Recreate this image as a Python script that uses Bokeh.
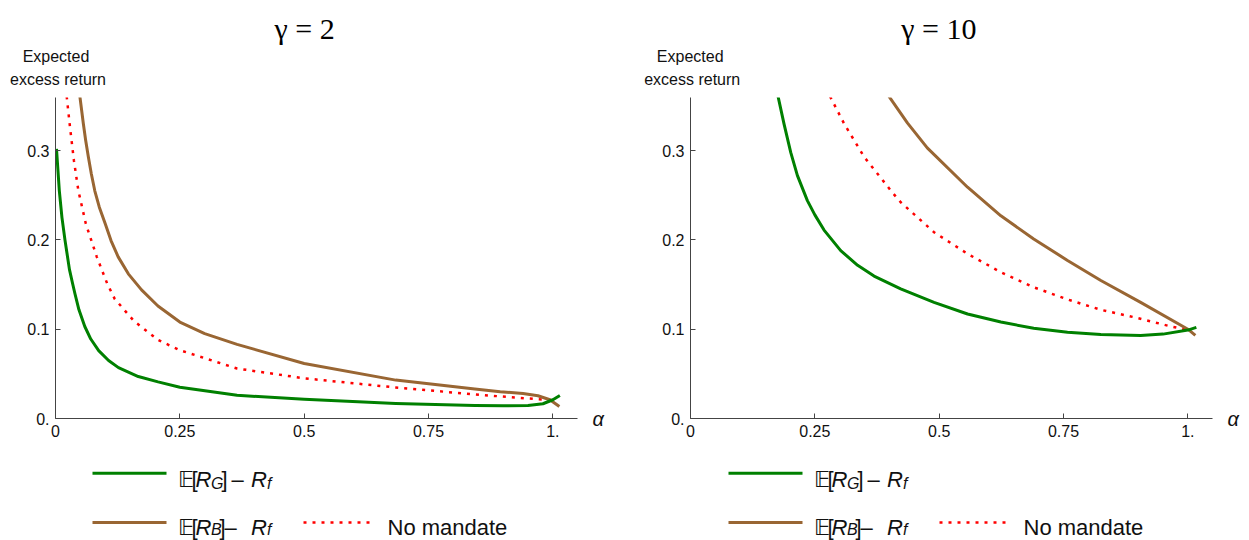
from bokeh.plotting import figure
from bokeh.models import Range1d, FixedTicker, LinearAxis
from bokeh.layouts import row, column
from bokeh.embed import file_html
from bokeh.resources import INLINE
from bokeh.core.properties import value

# ---------------- data ----------------
ALPHA_TICKS = [0, 0.25, 0.5, 0.75, 1.0]
ALPHA_TICK_LABELS = ["0", "0.25", "0.5", "0.75", "1."]
Y_TICKS = [0, 0.1, 0.2, 0.3]
Y_TICK_LABELS = ["0.", "0.1", "0.2", "0.3"]
TITLES = ["γ = 2", "γ = 10"]
Y_LABEL = ["Expected", "excess return"]
X_LABEL = "α"

# gamma = 2
g2_green_alpha = [0.002, 0.0077, 0.013, 0.019, 0.0231, 0.028, 0.034, 0.039, 0.047, 0.0589,
                  0.0709, 0.0868, 0.1067, 0.1266, 0.1664, 0.2062, 0.250, 0.365, 0.500, 0.684,
                  0.843, 0.900, 0.950, 0.980, 1.000, 1.014]
g2_green = [0.302, 0.255, 0.225, 0.200, 0.185, 0.167, 0.152, 0.140, 0.122, 0.103,
            0.089, 0.076, 0.065, 0.057, 0.047, 0.041, 0.035, 0.026, 0.0216, 0.0168,
            0.0145, 0.0142, 0.0145, 0.0165, 0.021, 0.0258]
g2_brown_alpha = [0.049, 0.056, 0.0607, 0.066, 0.072, 0.079, 0.0881, 0.100, 0.1116, 0.126,
                  0.1464, 0.173, 0.206, 0.250, 0.300, 0.365, 0.500, 0.684, 0.843, 0.894,
                  0.940, 0.970, 0.994, 1.013]
g2_brown = [0.3607, 0.330, 0.3113, 0.293, 0.274, 0.255, 0.2366, 0.218, 0.1993, 0.181,
            0.162, 0.144, 0.126, 0.108, 0.095, 0.083, 0.0616, 0.043, 0.033, 0.030,
            0.028, 0.0255, 0.021, 0.0134]
g2_red_alpha = [0.0225, 0.029, 0.037, 0.046, 0.061, 0.083, 0.104, 0.119, 0.158, 0.206, 0.250,
                0.365, 0.500, 0.684, 0.843, 0.923, 1.000]
g2_red = [0.3607, 0.327, 0.289, 0.255, 0.218, 0.181, 0.151, 0.134, 0.109, 0.088, 0.0765,
          0.056, 0.045, 0.0347, 0.027, 0.0235, 0.0205]

# gamma = 10
g10_green_alpha = [0.176, 0.188, 0.2015, 0.215, 0.235, 0.250, 0.2685, 0.302, 0.336, 0.369,
                   0.4226, 0.4896, 0.557, 0.624, 0.690, 0.758, 0.825, 0.905, 0.950, 1.000, 1.017]
g10_green = [0.3607, 0.330, 0.298, 0.272, 0.244, 0.228, 0.211, 0.188, 0.1715, 0.1595,
             0.1452, 0.130, 0.117, 0.108, 0.101, 0.0967, 0.094, 0.093, 0.0945, 0.099, 0.102]
g10_brown_alpha = [0.399, 0.436, 0.476, 0.557, 0.624, 0.690, 0.758, 0.825, 0.905, 1.000, 1.015]
g10_brown = [0.3607, 0.331, 0.303, 0.259, 0.227, 0.201, 0.177, 0.1545, 0.130, 0.100, 0.093]
g10_red_alpha = [0.2806, 0.309, 0.349, 0.406, 0.4226, 0.4896, 0.557, 0.624, 0.690, 0.758,
                 0.825, 0.891, 0.963, 1.000]
g10_red = [0.3607, 0.330, 0.293, 0.253, 0.2422, 0.2086, 0.1844, 0.1638, 0.147, 0.1333,
           0.1217, 0.1135, 0.1035, 0.099]

GREEN = "#008000"
BROWN = "#996633"
RED = "#ff0000"
SANS = "Liberation Sans"
SERIF = "Liberation Serif"
INK = "#111111"

# ---------------- layout constants (pixels) ----------------
PX_PER_ALPHA = 497.4
FRAME_W = 522
FRAME_H = 321
X_END = FRAME_W / PX_PER_ALPHA
Y_END = FRAME_H / 893.0
HEAD_H = 97
MAIN_H = FRAME_H + 30
LEG_TOP = HEAD_H + MAIN_H
LEG_H = 92


def style_axis(ax, ticks, labels):
    ax.ticker = FixedTicker(ticks=ticks)
    ax.major_label_overrides = {t: l for t, l in zip(ticks, labels)}
    ax.axis_line_color = "#444444"
    ax.major_tick_line_color = "#444444"
    ax.major_tick_in = 5
    ax.major_tick_out = 0
    ax.minor_tick_line_color = None
    ax.major_label_text_font = SANS
    ax.major_label_text_font_size = "16px"
    ax.major_label_text_color = INK
    ax.major_label_standoff = 6


def make_header(left, width, title, x0):
    h = figure(width=width, height=HEAD_H, title=None,
               x_range=Range1d(left, left + width), y_range=Range1d(HEAD_H, 0),
               x_axis_type=None, y_axis_type=None, min_border=0,
               toolbar_location=None, output_backend="svg")
    h.outline_line_color = None
    h.text(x=[x0 + 0.5 * PX_PER_ALPHA], y=[28], text=[title], text_font=value(SERIF),
           text_font_size=value("30px"), text_align="center", text_baseline="alphabetic",
           text_color="#000000")
    h.text(x=[x0, x0 + 2], y=[56, 79], text=Y_LABEL, text_font=value(SANS),
           text_font_size=value("16px"), text_align="center", text_baseline="alphabetic",
           text_color=INK)
    return h


def make_panel(green, brown, red, width, border_left, border_right):
    p = figure(width=width, height=MAIN_H, title=None,
               x_range=Range1d(0, X_END), y_range=Range1d(0, Y_END),
               min_border_left=border_left, min_border_right=border_right,
               min_border_top=0, min_border_bottom=30,
               toolbar_location=None, output_backend="svg")
    p.outline_line_color = None
    p.xgrid.visible = False
    p.ygrid.visible = False
    style_axis(p.xaxis[0], ALPHA_TICKS, ALPHA_TICK_LABELS)
    style_axis(p.yaxis[0], Y_TICKS, Y_TICK_LABELS)

    # the alpha label sits to the right of the x axis, at y = 0
    a = LinearAxis(ticker=FixedTicker(ticks=[0]), major_label_overrides={0: X_LABEL})
    a.axis_line_color = None
    a.major_tick_line_color = None
    a.minor_tick_line_color = None
    a.major_tick_in = 0
    a.major_tick_out = 0
    a.major_label_standoff = 15
    a.major_label_text_font = SANS
    a.major_label_text_font_style = "italic"
    a.major_label_text_font_size = "20px"
    a.major_label_text_color = INK
    p.add_layout(a, "right")

    p.line(red[0], red[1], line_color=RED, line_width=2.5, line_dash="3 6", line_join="round")
    p.line(brown[0], brown[1], line_color=BROWN, line_width=3, line_join="round")
    p.line(green[0], green[1], line_color=GREEN, line_width=3, line_join="round")
    return p


def make_legend(left, width, dx):
    q = figure(width=width, height=LEG_H, title=None,
               x_range=Range1d(left, left + width), y_range=Range1d(LEG_TOP + LEG_H, LEG_TOP),
               x_axis_type=None, y_axis_type=None, min_border=0,
               toolbar_location=None, output_backend="svg")
    q.outline_line_color = None
    q.line([92 + dx, 166 + dx], [472.7, 472.7], line_color=GREEN, line_width=3)
    q.line([92 + dx, 166 + dx], [522.0, 522.0], line_color=BROWN, line_width=3)
    q.line([303 + dx, 372 + dx], [522.0, 522.0], line_color=RED, line_width=2.5, line_dash="3 6")

    def txt(xs, ys, texts, size, style="normal"):
        q.text(x=[x + dx for x in xs], y=ys, text=texts, text_font=value(SANS),
               text_font_size=value(size), text_font_style=style,
               text_baseline="alphabetic", text_align="left", text_color=INK)

    for base, sub, close_x, dash_x, sub_dy in ((479.3, "G", 221, 231, 4),
                                               (526.5, "B", 219, 224, 2.5)):
        txt([177, 191], [base, base], ["𝔼", "["], "22px")
        txt([close_x, dash_x], [base, base], ["]", "–"], "22px")
        txt([195, 250.5], [base, base], ["R", "R"], "22px", "italic")
        txt([210.5, 266.5], [base + sub_dy, base + sub_dy], [sub, "f"], "16px", "italic")
    txt([387], [526.5], ["No mandate"], "22px")
    return q


LEFT_W, RIGHT_W = 628, 620
X0_LEFT, X0_RIGHT = 55.5, 689.7

h1 = make_header(0, LEFT_W, TITLES[0], X0_LEFT)
h2 = make_header(LEFT_W, RIGHT_W, TITLES[1], X0_RIGHT)
p1 = make_panel((g2_green_alpha, g2_green), (g2_brown_alpha, g2_brown), (g2_red_alpha, g2_red),
                LEFT_W, 55, LEFT_W - 55 - FRAME_W)
p2 = make_panel((g10_green_alpha, g10_green), (g10_brown_alpha, g10_brown),
                (g10_red_alpha, g10_red), RIGHT_W, 62, RIGHT_W - 62 - FRAME_W)
l1 = make_legend(0, LEFT_W, 0)
l2 = make_legend(LEFT_W, RIGHT_W, 636)

layout = column(row(h1, h2), row(p1, p2), row(l1, l2))
open("out.html", "w").write(file_html(layout, INLINE))
